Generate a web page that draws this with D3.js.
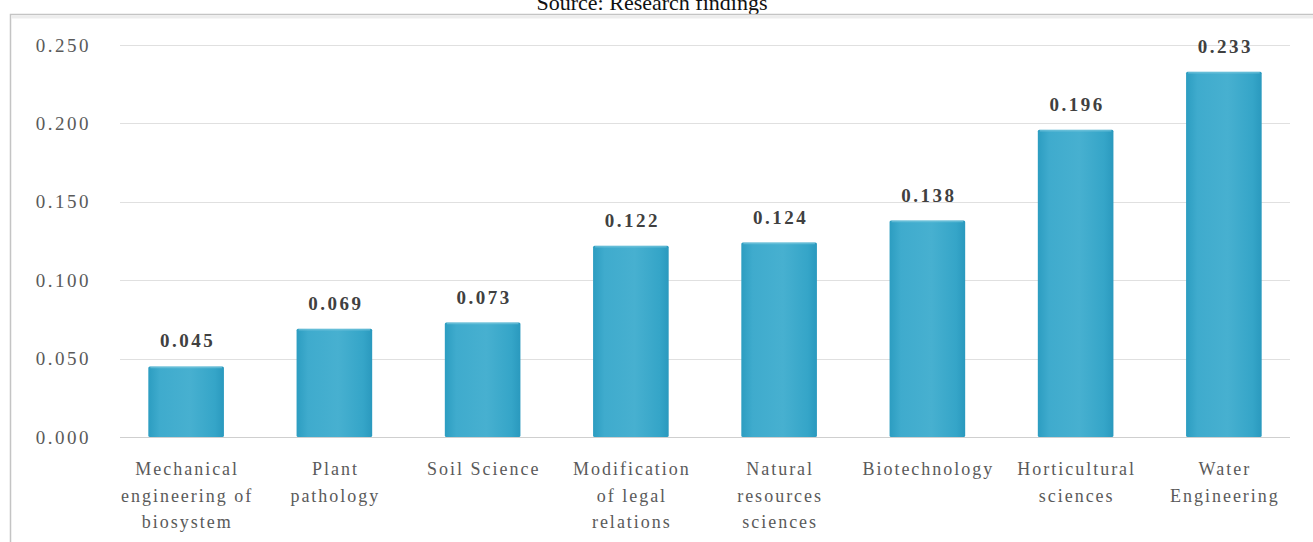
<!DOCTYPE html>
<html>
<head>
<meta charset="utf-8">
<script src="https://cdn.jsdelivr.net/npm/d3@7"></script>
<style>
  html, body { margin: 0; padding: 0; background: #fff; }
  svg { display: block; }
  svg text { font-family: "Liberation Serif", "Times New Roman", serif; }
</style>
</head>
<body>
<svg id="chart" width="1313" height="542"></svg>
<script>
// 数据
const categories = [
  'Mechanical engineering of biosystem',
  'Plant pathology',
  'Soil Science',
  'Modification of legal relations',
  'Natural resources sciences',
  'Biotechnology',
  'Horticultural sciences',
  'Water Engineering'
];
// 分行显示的类别标签
const categoryLines = [
  ['Mechanical', 'engineering of', 'biosystem'],
  ['Plant', 'pathology'],
  ['Soil Science'],
  ['Modification', 'of legal', 'relations'],
  ['Natural', 'resources', 'sciences'],
  ['Biotechnology'],
  ['Horticultural', 'sciences'],
  ['Water', 'Engineering']
];
const values = [0.045, 0.069, 0.073, 0.122, 0.124, 0.138, 0.196, 0.233];
const yTicks = [0, 0.05, 0.10, 0.15, 0.20, 0.25];
const title = 'Source: Research findings';

const svg = d3.select('#chart');
const serif = '"Liberation Serif", "Times New Roman", serif';

// 比例尺
const x = d3.scaleBand()
  .domain(categories)
  .range([112, 1298])
  .paddingInner(0.49)
  .paddingOuter(0.245);

const y = d3.scaleLinear()
  .domain([0, 0.25])
  .range([437, 45]);

// 标题（顶部被裁切，与原图一致）
svg.append('text')
  .attr('x', 652)
  .attr('y', 10)
  .attr('text-anchor', 'middle')
  .style('font-family', serif)
  .attr('font-size', 22)
  .attr('fill', '#111')
  .text(title);

// 外框
svg.append('rect')
  .attr('x', 10.5)
  .attr('y', 14.5)
  .attr('width', 1330)
  .attr('height', 560)
  .attr('fill', '#fff')
  .attr('stroke', '#c4c4c4')
  .attr('stroke-width', 1.5);

svg.append('line')
  .attr('x1', 11).attr('x2', 1313)
  .attr('y1', 17).attr('y2', 17)
  .attr('stroke', '#ededed')
  .attr('stroke-width', 3);

// 网格线
svg.append('g')
  .selectAll('line')
  .data(yTicks)
  .join('line')
  .attr('x1', 120)
  .attr('x2', 1290)
  .attr('y1', d => Math.round(y(d)) + 0.5)
  .attr('y2', d => Math.round(y(d)) + 0.5)
  .attr('stroke', d => d === 0 ? '#cfcfcf' : '#e0e0e0')
  .attr('stroke-width', 1.2);

// 柱子渐变
const defs = svg.append('defs');
const grad = defs.append('linearGradient')
  .attr('id', 'barGrad')
  .attr('x1', '0%').attr('x2', '100%')
  .attr('y1', '0%').attr('y2', '0%');
grad.append('stop').attr('offset', '0%').attr('stop-color', '#2c9dc1');
grad.append('stop').attr('offset', '15%').attr('stop-color', '#3fabcd');
grad.append('stop').attr('offset', '55%').attr('stop-color', '#47b0d0');
grad.append('stop').attr('offset', '88%').attr('stop-color', '#35a5c8');
grad.append('stop').attr('offset', '100%').attr('stop-color', '#2a99be');

// 柱子
const bars = svg.append('g');
bars.selectAll('rect')
  .data(values)
  .join('rect')
  .attr('x', (d, i) => x(categories[i]))
  .attr('y', d => y(d))
  .attr('width', x.bandwidth())
  .attr('height', d => y(0) - y(d))
  .attr('rx', 1.5)
  .attr('fill', 'url(#barGrad)');

// 柱顶高光
bars.selectAll('line')
  .data(values)
  .join('line')
  .attr('x1', (d, i) => x(categories[i]) + 2)
  .attr('x2', (d, i) => x(categories[i]) + x.bandwidth() - 2)
  .attr('y1', d => y(d) + 1)
  .attr('y2', d => y(d) + 1)
  .attr('stroke', '#7cc8de')
  .attr('stroke-opacity', 0.6)
  .attr('stroke-width', 1.5);

// 数值标签
svg.append('g')
  .selectAll('text')
  .data(values)
  .join('text')
  .attr('x', (d, i) => x(categories[i]) + x.bandwidth() / 2 + 1.5)
  .attr('y', d => y(d) - 19)
  .attr('text-anchor', 'middle')
  .style('font-family', serif)
  .attr('font-weight', 'bold')
  .attr('font-size', 19)
  .attr('letter-spacing', 2.5)
  .attr('fill', '#404040')
  .text(d => d3.format('.3f')(d));

// Y轴
const yAxis = svg.append('g')
  .attr('transform', 'translate(91,0)')
  .call(d3.axisLeft(y).tickValues(yTicks).tickSize(0).tickPadding(0).tickFormat(d3.format('.3f')));
yAxis.select('.domain').remove();
yAxis.selectAll('text')
  .style('font-family', serif)
  .attr('font-size', 19)
  .attr('letter-spacing', 2.5)
  .attr('fill', '#5a5a5a');

// X轴（多行标签）
const xAxis = svg.append('g')
  .attr('transform', `translate(0,${y(0)})`)
  .call(d3.axisBottom(x).tickSize(0).tickFormat(''));
xAxis.select('.domain').remove();
xAxis.selectAll('.tick text').remove();
xAxis.selectAll('.tick')
  .append('text')
  .style('font-family', serif)
  .attr('font-size', 18)
  .attr('letter-spacing', 2)
  .attr('fill', '#5a5a5a')
  .attr('text-anchor', 'middle')
  .each(function(d) {
    const lines = categoryLines[categories.indexOf(d)];
    d3.select(this).selectAll('tspan')
      .data(lines)
      .join('tspan')
      .attr('x', 1)
      .attr('y', (l, j) => 38 + j * 26.5)
      .text(l => l);
  });
</script>
</body>
</html>
